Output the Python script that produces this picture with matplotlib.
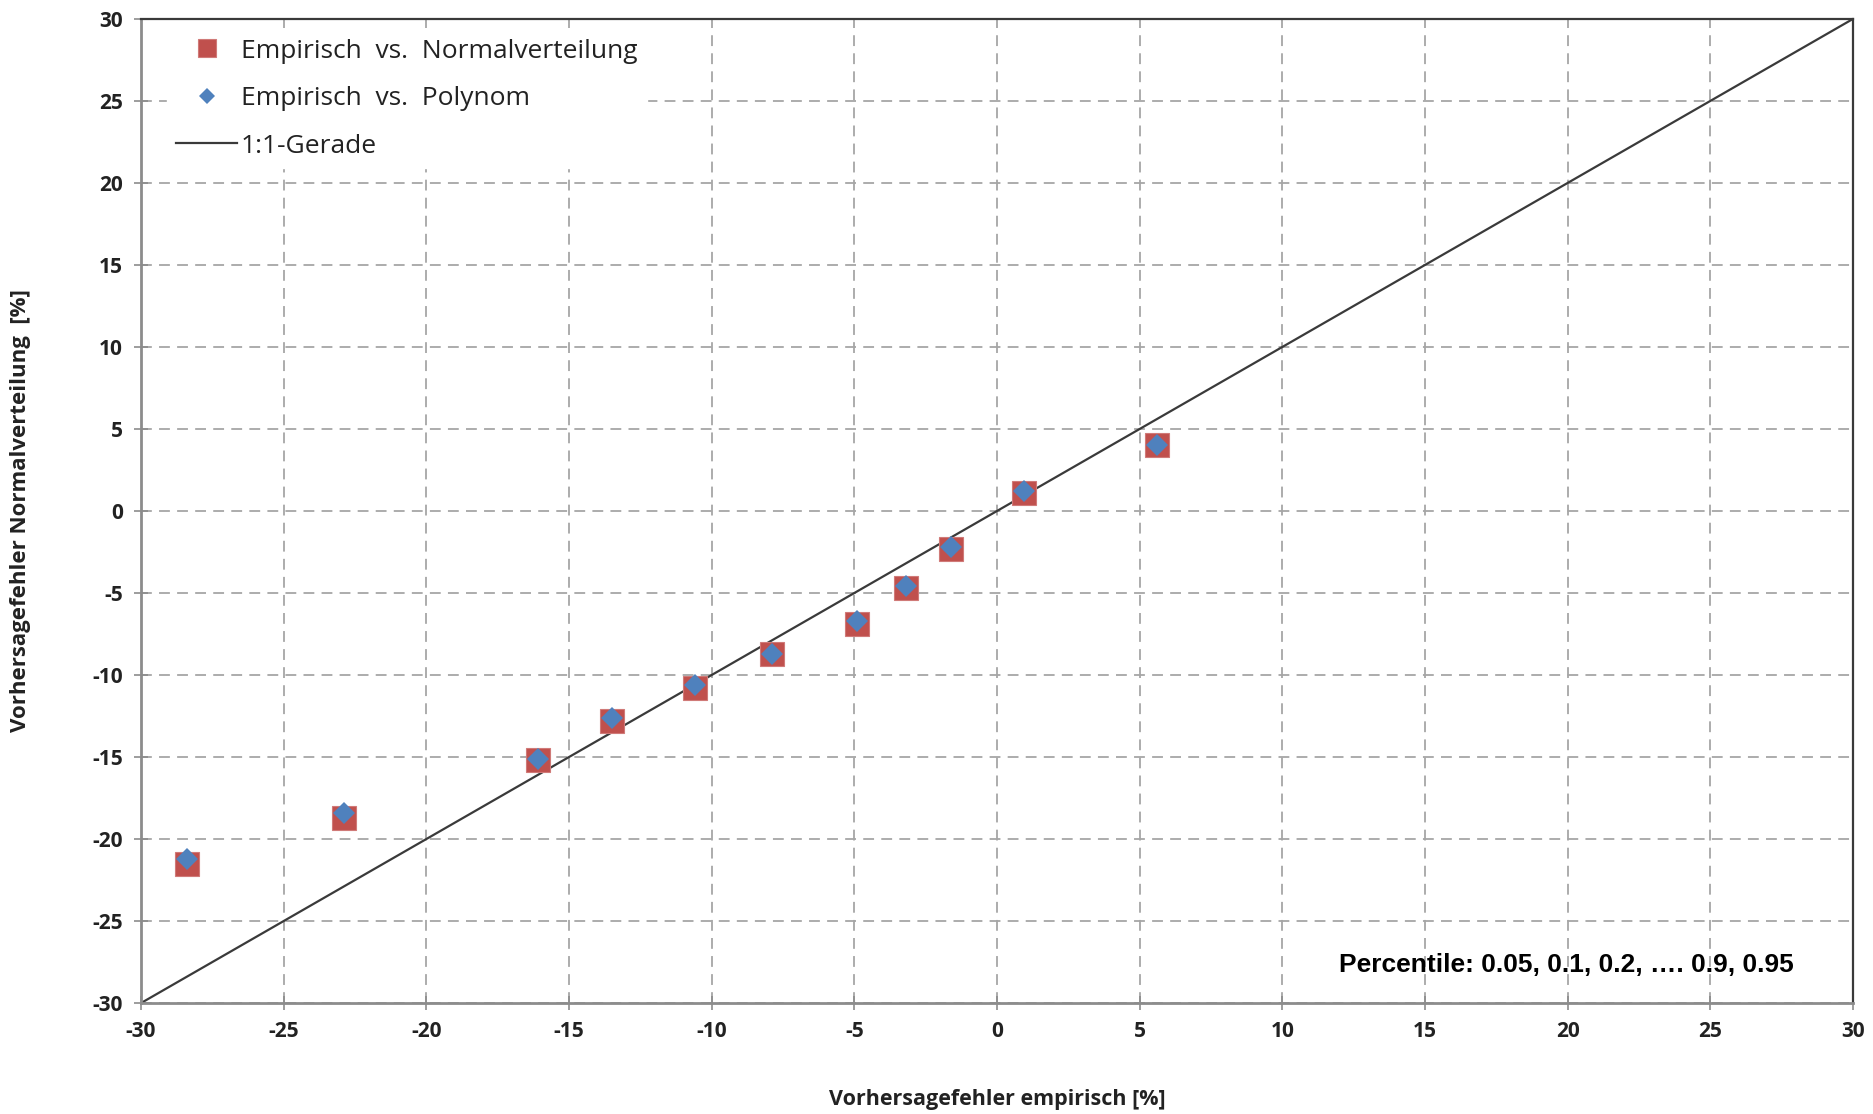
import matplotlib
matplotlib.use("Agg")
import matplotlib.pyplot as plt
import numpy as np

# Vorhersagefehler in % je Perzentil (0.05, 0.1, 0.2, ... 0.9, 0.95)
empirisch = [-28.4, -22.9, -16.1, -13.5, -10.6, -7.9, -4.9, -3.2, -1.6, 0.95, 5.6]
normalvert = [-21.5, -18.7, -15.2, -12.8, -10.8, -8.7, -6.9, -4.7, -2.3, 1.1, 4.0]
polynom = [-21.2, -18.4, -15.1, -12.6, -10.6, -8.7, -6.7, -4.6, -2.2, 1.2, 4.0]
gerade = [-30, 30]
ticks = list(range(-30, 31, 5))

plt.rcParams['font.family'] = ['Open Sans', 'DejaVu Sans']
plt.rcParams['axes.unicode_minus'] = False

fig = plt.figure(figsize=(18.73, 11.14), dpi=100)
ax = fig.add_axes([0.0753, 0.0996, 0.9140, 0.8834])

ax.plot(empirisch, normalvert, 's', color='#C0504D', ms=17.5, mec='#D07A78', mew=0.8,
        label='Empirisch  vs.  Normalverteilung', zorder=3)
ax.plot(empirisch, polynom, 'D', color='#4F81BD', ms=11.5, mew=0,
        label='Empirisch  vs.  Polynom', zorder=4)
ax.plot(gerade, gerade, '-', color='#3a3a3a', lw=1.6, label='1:1-Gerade', zorder=2)

ax.set_xlim(-30, 30)
ax.set_ylim(-30, 30)
ax.set_xticks(ticks)
ax.set_yticks(ticks)
ax.grid(True, ls=(0, (6, 4)), color='#a6a6a6', lw=1.3)
ax.set_axisbelow(True)
ax.tick_params(direction='inout', length=10, width=1.2, color='#8c8c8c',
               labelsize=15, labelcolor='#222222', pad=8)
plt.setp(ax.get_xticklabels() + ax.get_yticklabels(), fontweight='bold')

for s in ['left', 'bottom']:
    ax.spines[s].set_color('#8c8c8c')
    ax.spines[s].set_linewidth(2)
for s in ['top', 'right']:
    ax.spines[s].set_color('#3a3a3a')
    ax.spines[s].set_linewidth(1.6)

ax.set_xlabel('Vorhersagefehler empirisch [%]', fontsize=15.5, fontweight='bold',
              color='#222222', labelpad=34)
ax.set_ylabel('Vorhersagefehler Normalverteilung  [%]', fontsize=16, fontweight='bold',
              color='#222222', labelpad=44)

ax.text(12.0, -27.7, 'Percentile: 0.05, 0.1, 0.2, …. 0.9, 0.95', fontsize=19,
        fontweight='bold', family='Liberation Sans', va='center', ha='left', zorder=5)

leg = ax.legend(loc='upper left', bbox_to_anchor=(0.009, 1.0), fontsize=19,
                frameon=True, fancybox=False,
                edgecolor='white', facecolor='white', framealpha=1,
                handlelength=2.3, handletextpad=0.15, labelspacing=0.85,
                borderpad=0.35, borderaxespad=0.4, numpoints=1, markerscale=0.7)
for t in leg.get_texts():
    t.set_color('#222222')

fig.savefig('out.png', dpi=100)
